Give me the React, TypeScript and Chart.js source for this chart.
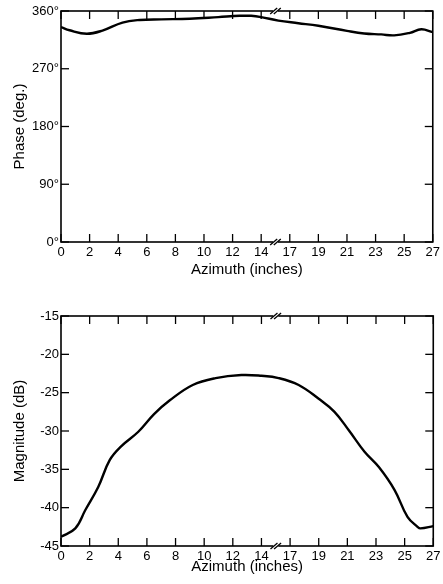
import { useEffect, useRef } from "react";
import { Chart, registerables } from "chart.js";

Chart.register(...registerables);

// Tick labels of the broken azimuth axis (one tick per axis unit)
const xTickLabels = ["0", "2", "4", "6", "8", "10", "12", "14", "17", "19", "21", "23", "25", "27"];

// Phase panel
const phaseAzimuth = [0, 0.6, 1.8, 2.9, 4.3, 5.5, 7, 9, 11, 12.5, 13.3, 14, 15.8, 17.6, 19, 21, 22.2, 23.4, 24.3, 25.4, 26.2, 27];
const phaseValues = [335, 330, 324.5, 329.5, 342, 346, 347, 348, 350.5, 352.5, 352.5, 350.5, 345, 341, 337, 329, 325, 323.5, 322, 326, 331.5, 327];
const phaseTicks = [0, 90, 180, 270, 360];

// Magnitude panel
const magAzimuth = [0, 1.0, 1.7, 2.6, 3.4, 4.2, 5.4, 6.5, 7.6, 9.2, 10.8, 12.6, 14, 15.8, 17.6, 19, 20.1, 21.1, 22.2, 23.2, 24.3, 25.2, 25.9, 26.1, 27];
const magValues = [-43.8, -42.7, -40.3, -37.3, -33.8, -32, -30.1, -27.8, -26, -24, -23.1, -22.7, -22.8, -23.1, -24, -25.8, -27.5, -29.9, -32.7, -34.7, -37.7, -41.2, -42.5, -42.7, -42.4];
const magTicks = [-45, -40, -35, -30, -25, -20, -15];

const FONT = "'Liberation Sans', Arial, Helvetica, sans-serif";

// map inches onto the broken axis (0..14 and 17..27, gap compressed to one unit)
function toAxis(inch: number): number {
  if (inch <= 14) return inch / 2;
  if (inch < 17) return 7 + (inch - 14) / 3;
  return 8 + (inch - 17) / 2;
}

function line(ctx: CanvasRenderingContext2D, x1: number, y1: number, x2: number, y2: number) {
  ctx.beginPath();
  ctx.moveTo(x1, y1);
  ctx.lineTo(x2, y2);
  ctx.stroke();
}

const framePlugin = {
  id: "frame",
  afterDraw(chart: any) {
    const { ctx, chartArea } = chart;
    const { left, right, top, bottom } = chartArea;
    const x = chart.scales.x;
    const y = chart.scales.y;
    ctx.save();
    ctx.strokeStyle = "#000";
    ctx.lineWidth = 1.6;
    ctx.strokeRect(left, top, right - left, bottom - top);
    ctx.lineWidth = 1.3;
    const tl = 8;
    x.ticks.forEach((t: any) => {
      const px = x.getPixelForValue(t.value);
      line(ctx, px, bottom, px, bottom - tl);
      line(ctx, px, top, px, top + tl);
    });
    y.ticks.forEach((t: any) => {
      const py = y.getPixelForValue(t.value);
      line(ctx, left, py, left + tl, py);
      line(ctx, right, py, right - tl, py);
    });
    // axis break marks
    const bx = x.getPixelForValue(7.5);
    [top, bottom].forEach((by: number) => {
      ctx.fillStyle = "#fff";
      ctx.fillRect(bx - 2.5, by - 2, 5, 4);
      ctx.lineWidth = 1.3;
      [-1.8, 1.8].forEach((o) => line(ctx, bx + o - 3.5, by + 3, bx + o + 3.5, by - 3));
    });
    ctx.restore();
  },
};

type PanelProps = {
  xs: number[];
  ys: number[];
  yTicks: number[];
  yTitle: string;
  suffix: string;
  padTop: number;
  xAxisHeight: number;
  labelPad: number;
  titlePadBottom: number;
};

function Panel(p: PanelProps) {
  const ref = useRef<HTMLCanvasElement | null>(null);
  useEffect(() => {
    if (!ref.current) return;
    const data = p.xs.map((v, i) => ({ x: toAxis(v), y: p.ys[i] }));
    const chart = new Chart(ref.current, {
      type: "line",
      data: {
        datasets: [
          {
            data,
            borderColor: "#000",
            borderWidth: 2.4,
            pointRadius: 0,
            tension: 0.4,
            fill: false,
          },
        ],
      },
      plugins: [framePlugin],
      options: {
        animation: false,
        responsive: false,
        devicePixelRatio: 1,
        layout: { padding: { top: p.padTop, right: 7, left: 0, bottom: 0 } },
        plugins: { legend: { display: false }, tooltip: { enabled: false } },
        scales: {
          x: {
            type: "linear",
            min: 0,
            max: 13,
            grid: { display: false, drawTicks: false },
            border: { display: false },
            ticks: {
              stepSize: 1,
              autoSkip: false,
              maxRotation: 0,
              padding: p.labelPad,
              color: "#000",
              font: { family: FONT, size: 13 },
              callback: (v: any) => xTickLabels[Math.round(Number(v))] ?? "",
            },
            title: {
              display: true,
              text: "Azimuth (inches)",
              color: "#000",
              font: { family: FONT, size: 15 },
              padding: { top: 0, bottom: p.titlePadBottom },
            },
            afterFit: (s: any) => {
              s.height = p.xAxisHeight;
            },
          },
          y: {
            type: "linear",
            min: p.yTicks[0],
            max: p.yTicks[p.yTicks.length - 1],
            grid: { display: false, drawTicks: false },
            border: { display: false },
            afterBuildTicks: (s: any) => {
              s.ticks = p.yTicks.map((v) => ({ value: v }));
            },
            ticks: {
              padding: 2,
              color: "#000",
              font: { family: FONT, size: 13 },
              callback: (v: any) => `${v}${p.suffix}`,
            },
            title: {
              display: true,
              text: p.yTitle,
              color: "#000",
              font: { family: FONT, size: 15 },
              padding: { top: 10.5, bottom: 0 },
            },
            afterFit: (s: any) => {
              s.width = 61;
            },
          },
        },
      } as any,
    });
    return () => chart.destroy();
  }, []);
  return <canvas ref={ref} width={443} height={292} style={{ display: "block" }} />;
}

export default function App() {
  return (
    <div style={{ position: "absolute", left: 0, top: 0, width: 443, height: 584, background: "#fff" }}>
      <Panel
        xs={phaseAzimuth}
        ys={phaseValues}
        yTicks={phaseTicks}
        yTitle="Phase (deg.)"
        suffix="°"
        padTop={11}
        xAxisHeight={50}
        labelPad={3}
        titlePadBottom={13}
      />
      <Panel
        xs={magAzimuth}
        ys={magValues}
        yTicks={magTicks}
        yTitle="Magnitude (dB)"
        suffix=""
        padTop={24}
        xAxisHeight={38}
        labelPad={2.5}
        titlePadBottom={8}
      />
    </div>
  );
}
